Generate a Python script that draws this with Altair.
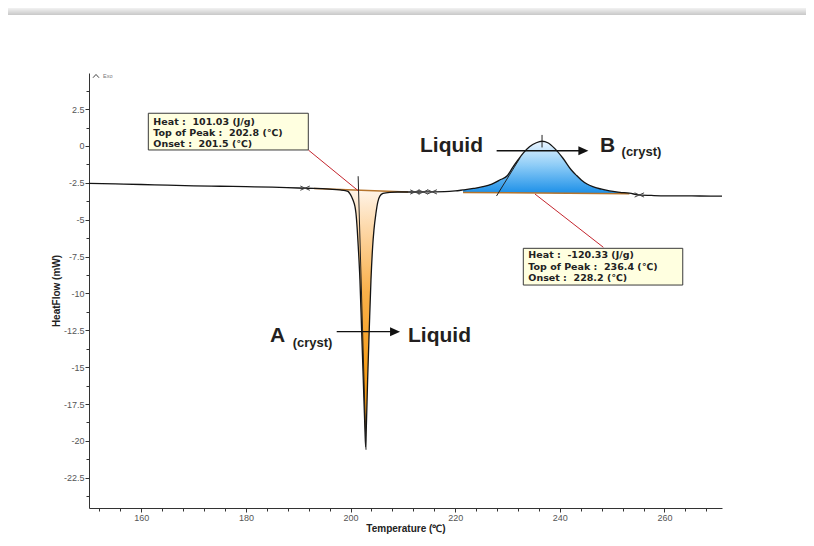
import altair as alt
import pandas as pd
import numpy as np

# ---- DSC curve (Temperature in deg C, HeatFlow in mW) ----
temps = [150, 155, 160, 165, 170, 175, 180, 185, 190, 193, 196, 198, 199, 199.5, 199.8,
         200.2, 200.5, 200.85, 201.03, 201.28, 201.47, 201.79, 202.11, 202.43, 202.75, 202.88,
         203.0, 203.26, 203.57, 203.9, 204.22, 204.47, 204.85, 205.2, 205.6, 206.2, 207.5,
         209, 211, 213, 215, 218, 220, 221.5, 223.5, 225.3, 227, 228.5, 230, 231, 232, 233,
         234.2, 235.5, 236.6, 237.7, 239.0, 240.6, 242.2, 243.2, 244.1, 245.2, 246.3, 248,
         249.5, 251.5, 253.3, 255.2, 258, 262, 266.7, 271]
heat_flow = [-2.53, -2.57, -2.61, -2.66, -2.70, -2.73, -2.76, -2.79, -2.85, -2.88, -2.93, -2.98,
             -3.03, -3.08, -3.2, -3.44, -3.7, -4.12, -4.56, -5.69, -6.83, -9.08, -12.47, -15.86,
             -19.25, -20.4, -19.25, -15.86, -12.47, -9.08, -6.83, -5.69, -4.56, -3.8, -3.4,
             -3.22, -3.14, -3.12, -3.12, -3.12, -3.11, -3.1, -3.05, -2.98, -2.88, -2.76, -2.58,
             -2.31, -2.0, -1.45, -0.95, -0.48, -0.05, 0.22, 0.32, 0.22, -0.16, -0.83, -1.63,
             -2.0, -2.3, -2.58, -2.76, -2.93, -3.05, -3.14, -3.2, -3.32, -3.36, -3.38, -3.39, -3.40]

# integration baselines (start/end points)
endo_base_T = [193, 211]
endo_base_v = [-2.88, -3.12]
exo_base_T = [221.5, 253.3]
exo_base_v = [-3.15, -3.24]

# analysis marks
marker_T = [191.3, 212.3, 213.9, 215.6, 255.2]
marker_v = [-2.86, -3.12, -3.12, -3.11, -3.32]
tangent_x = [201.45, 227.9, 236.6]
tangent_y = [-2.05, -3.39, 0.75]
tangent_x2 = [202.95, 232.4, 236.6]
tangent_y2 = [-20.6, -0.8, -0.1]
leader_x = [191.92, 235.26]
leader_y = [-0.27, -3.26]
leader_x2 = [201.44, 248.32]
leader_y2 = [-3.03, -6.87]

# result boxes
box_x = [161.34, 233.02]
box_x2 = [191.92, 263.5]
box_y = [2.22, -6.94]
box_y2 = [-0.27, -9.43]
box_lines = ["Heat :\u00a0 101.03 (J/g)", "Top of Peak :\u00a0 202.8 (\u2103)", "Onset :\u00a0 201.5 (\u2103)",
             "Heat :\u00a0 -120.33 (J/g)", "Top of Peak :\u00a0 236.4 (\u2103)", "Onset :\u00a0 228.2 (\u2103)"]
box_line_x = [162.3, 162.3, 162.3, 233.98, 233.98, 233.98]
box_line_y = [1.65, 0.86, 0.115, -7.39, -8.23, -8.97]

# phase labels
big_labels = ["Liquid", "B", "A", "Liquid"]
big_x = [213.28, 247.69, 184.6, 210.98]
big_y = [-0.387, -0.387, -13.27, -13.31]
sub_labels = ["(cryst)", "(cryst)"]
sub_x = [251.8, 188.94]
sub_y = [-0.71, -13.6]
arrow_x = [227.92, 197.35]
arrow_x2 = [244.4, 208.4]
arrow_y = [-0.32, -12.59]
head_x = [244.5, 208.5]

x_ticks = list(range(152, 270, 4))
y_ticks = [-23.75 + 1.25 * k for k in range(23)]

XT = "Temperature (\u2103)"
YT = "HeatFlow (mW)"

y_major = "abs(datum.value / 2.5 - round(datum.value / 2.5)) < 0.001"
x_major = "datum.value % 20 === 0"

xscale = alt.Scale(domain=[150, 271], nice=False, zero=False)
yscale = alt.Scale(domain=[-24.55, 4.95], nice=False, zero=False)
xaxis = alt.Axis(title=XT, values=x_ticks, labelExpr=f"{x_major} ? '' + datum.value : ''",
                 tickSize={"condition": {"test": x_major, "value": 4}, "value": 3},
                 labelPadding=1, titleY=15, titleBaseline="top", labelFlush=False)
yaxis = alt.Axis(title=YT, values=y_ticks, labelExpr=f"{y_major} ? '' + datum.value : ''",
                 tickSize={"condition": {"test": y_major, "value": 4}, "value": 3},
                 labelPadding=1, titleX=-33, titleBaseline="middle", titleAngle=270,
                 labelFlush=False)


def X(f):
    return alt.X(f, type="quantitative", scale=xscale, axis=xaxis)


def Y(f):
    return alt.Y(f, type="quantitative", scale=yscale, axis=yaxis)


curve = pd.DataFrame({"T": temps, "v": heat_flow})


def area_df(bT, bv):
    d = curve[(curve["T"] >= bT[0]) & (curve["T"] <= bT[1])].copy()
    d["b"] = np.interp(d["T"], bT, bv)
    return d


endo = area_df(endo_base_T, endo_base_v)
exo = area_df(exo_base_T, exo_base_v)

orange = alt.LinearGradient(gradient="linear", x1=0, x2=0, y1=0, y2=1, stops=[
    alt.GradientStop(color="#fff5ea", offset=0),
    alt.GradientStop(color="#fdd9ab", offset=0.15),
    alt.GradientStop(color="#f9b04a", offset=0.4),
    alt.GradientStop(color="#f59e1c", offset=0.7),
    alt.GradientStop(color="#f29510", offset=1)])
blue = alt.LinearGradient(gradient="linear", x1=0, x2=0, y1=0, y2=1, stops=[
    alt.GradientStop(color="#eaf5ff", offset=0),
    alt.GradientStop(color="#8fcdf7", offset=0.45),
    alt.GradientStop(color="#1b8fe8", offset=1)])
shadow = alt.LinearGradient(gradient="linear", x1=0, x2=0, y1=0, y2=1, stops=[
    alt.GradientStop(color="#f2f2f2", offset=0),
    alt.GradientStop(color="#c8c8c8", offset=1)])

one = pd.DataFrame({"a": [0]})
shadow_layer = alt.Chart(one).mark_rect(fill=shadow).encode(
    x=alt.value(-81), x2=alt.value(717), y=alt.value(-65), y2=alt.value(-58))

endo_area = alt.Chart(endo).mark_area(fill=orange, interpolate="monotone").encode(
    x=X("T"), y=Y("v"), y2="b")
exo_area = alt.Chart(exo).mark_area(fill=blue, interpolate="monotone").encode(
    x=X("T"), y=Y("v"), y2="b")

base_df = pd.DataFrame({"x": [endo_base_T[0], exo_base_T[0]], "x2": [endo_base_T[1], exo_base_T[1]],
                        "y": [endo_base_v[0], exo_base_v[0]], "y2": [endo_base_v[1], exo_base_v[1]]})
base_layer = alt.Chart(base_df).mark_rule(color="#b5742c", strokeWidth=1.6).encode(
    x=X("x"), x2="x2", y=Y("y"), y2="y2")

curve_layer = alt.Chart(curve).mark_line(color="#141414", strokeWidth=1.3, interpolate="monotone").encode(
    x=X("T"), y=Y("v"))

tan_df = pd.DataFrame({"x": tangent_x, "y": tangent_y, "x2": tangent_x2, "y2": tangent_y2})
tan_layer = alt.Chart(tan_df).mark_rule(color="#222", strokeWidth=1).encode(
    x=X("x"), x2="x2", y=Y("y"), y2="y2")

mk_df = pd.DataFrame({"T": marker_T, "v": marker_v})
mk_layer = alt.Chart(mk_df).mark_point(shape="M-1,-0.45L1,0.45M-1,0.45L1,-0.45", size=90,
                                       filled=False, color="#444", strokeWidth=1, opacity=1).encode(
    x=X("T"), y=Y("v"))

lead_df = pd.DataFrame({"x": leader_x, "y": leader_y, "x2": leader_x2, "y2": leader_y2})
lead_layer = alt.Chart(lead_df).mark_rule(color="#c4262e", strokeWidth=1).encode(
    x=X("x"), x2="x2", y=Y("y"), y2="y2")

box_df = pd.DataFrame({"x": box_x, "x2": box_x2, "y": box_y, "y2": box_y2})
box_layer = alt.Chart(box_df).mark_rect(fill="#ffffe0", stroke="#3a3a3a", strokeWidth=1).encode(
    x=X("x"), x2="x2", y=Y("y"), y2="y2")

bt_df = pd.DataFrame({"x": box_line_x, "y": box_line_y, "t": box_lines})
bt_layer = alt.Chart(bt_df).mark_text(align="left", baseline="middle", font="DejaVu Sans",
                                      fontSize=9.5, fontWeight="bold", color="#222").encode(
    x=X("x"), y=Y("y"), text="t:N")

big_df = pd.DataFrame({"x": big_x, "y": big_y, "t": big_labels})
big_layer = alt.Chart(big_df).mark_text(align="left", baseline="alphabetic", font="Liberation Sans",
                                        fontSize=21, fontWeight="bold", color="#231f20").encode(
    x=X("x"), y=Y("y"), text="t:N")

sub_df = pd.DataFrame({"x": sub_x, "y": sub_y, "t": sub_labels})
sub_layer = alt.Chart(sub_df).mark_text(align="left", baseline="alphabetic", font="Liberation Sans",
                                        fontSize=13, fontWeight="bold", color="#231f20").encode(
    x=X("x"), y=Y("y"), text="t:N")

arr_df = pd.DataFrame({"x": arrow_x, "x2": arrow_x2, "y": arrow_y})
arr_layer = alt.Chart(arr_df).mark_rule(color="#111", strokeWidth=1.4).encode(
    x=X("x"), x2="x2", y=Y("y"))
head_df = pd.DataFrame({"x": head_x, "y": arrow_y})
head_layer = alt.Chart(head_df).mark_point(shape="M-1,-0.9L1,0L-1,0.9Z", size=100, filled=True,
                                           color="#111", opacity=1).encode(x=X("x"), y=Y("y"))

exo_df = pd.DataFrame({"x": [151.34], "y": [4.75]})
caret_layer = alt.Chart(exo_df).mark_point(shape="M-1,0.6L0,-0.5L1,0.6", size=36, filled=False,
                                           color="#444", strokeWidth=1, opacity=1).encode(
    x=X("x"), y=Y("y"))
exo_txt = pd.DataFrame({"x": [152.7], "y": [4.75], "t": ["Exo"]})
exo_text_layer = alt.Chart(exo_txt).mark_text(align="left", baseline="middle", font="Liberation Sans",
                                              fontSize=5.5, color="#777").encode(
    x=X("x"), y=Y("y"), text="t:N")

chart = alt.layer(
    shadow_layer, endo_area, exo_area, base_layer, curve_layer, tan_layer, mk_layer,
    lead_layer, box_layer, bt_layer, big_layer, sub_layer, arr_layer, head_layer,
    caret_layer, exo_text_layer
).properties(
    width=633, height=435,
    padding={"left": 81, "top": 65, "right": 84, "bottom": 30},
    autosize=alt.AutoSizeParams(type="none"),
    background="white",
).configure_view(stroke=None).configure_axis(
    domainColor="#333", tickColor="#333", labelColor="#555", labelFont="Liberation Sans",
    labelFontSize=9, titleFont="Liberation Sans", titleFontSize=10, titleFontWeight="bold",
    titleColor="#222", grid=False
)

chart.save("out.html", embed_options={"renderer": "svg", "actions": False})
